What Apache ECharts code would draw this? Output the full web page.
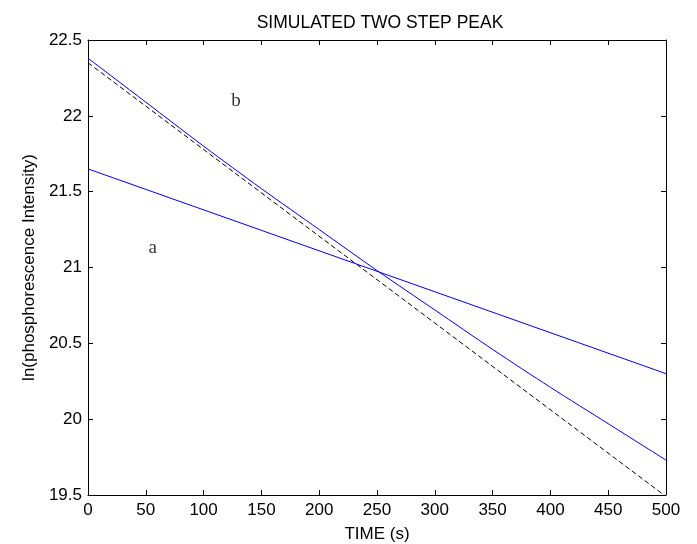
<!DOCTYPE html>
<html>
<head>
<meta charset="utf-8">
<script src="https://cdn.jsdelivr.net/npm/echarts@6/dist/echarts.min.js"></script>
<style>html,body{margin:0;padding:0;background:#fff}#c{width:697px;height:544px}</style>
</head>
<body>
<div id="c"></div>
<script>
var timeA = [0, 500];
var valuesA = [21.65, 20.30];
var timeB = [0, 50, 100, 150, 200, 250, 300, 350, 400, 450, 500];
var valuesB = [22.38, 22.09, 21.80, 21.52, 21.25, 20.98, 20.72, 20.46, 20.21, 19.97, 19.73];
var timeFit = [0, 500];
var valuesFit = [22.35, 19.49];
var annotations = [["a", 56, 21.13], ["b", 128, 22.10]];
var titleText = "SIMULATED TWO STEP PEAK";
var xName = "TIME (s)";
var yName = "ln(phosphorescence Intensity)";

function pairs(xs, ys) { return xs.map(function (x, i) { return [x, ys[i]]; }); }

var font = "Liberation Sans, Arial, sans-serif";
var fs = 17;
var axisCommon = {
  axisLine: { show: true, onZero: false, lineStyle: { color: "#000", width: 1 } },
  axisTick: { show: true, inside: true, length: 5, lineStyle: { color: "#000" } },
  splitLine: { show: false }
};
var chart = echarts.init(document.getElementById("c"), null, { renderer: "canvas" });
chart.setOption({
  animation: false,
  backgroundColor: "#fff",
  title: {
    text: titleText, left: 375, top: 9, textAlign: "center",
    textStyle: { fontFamily: font, fontSize: 17.5, fontWeight: "normal", color: "#000" }
  },
  grid: { left: 88, right: 31, top: 40, bottom: 49, containLabel: false, outerBoundsMode: "none" },
  xAxis: [
    Object.assign({
      type: "value", min: 0, max: 500, interval: 50, position: "bottom",
      name: xName, nameLocation: "middle", nameGap: 31,
      nameTextStyle: { fontFamily: font, fontSize: fs, color: "#000" },
      axisLabel: { fontFamily: font, fontSize: fs, color: "#000", margin: 7 }
    }, axisCommon),
    Object.assign({
      type: "value", min: 0, max: 500, interval: 50, position: "top",
      axisLabel: { show: false }
    }, axisCommon)
  ],
  yAxis: [
    Object.assign({
      type: "value", min: 19.5, max: 22.5, interval: 0.5, position: "left",
      name: yName, nameLocation: "middle", nameGap: 49,
      nameTextStyle: { fontFamily: font, fontSize: fs, color: "#000" },
      axisLabel: { fontFamily: font, fontSize: fs, color: "#000", margin: 6 }
    }, axisCommon),
    Object.assign({
      type: "value", min: 19.5, max: 22.5, interval: 0.5, position: "right",
      axisLabel: { show: false }
    }, axisCommon)
  ],
  series: [
    { type: "line", data: pairs(timeA, valuesA), showSymbol: false, symbol: "none",
      lineStyle: { color: "#0000ff", width: 1 } },
    { type: "line", data: pairs(timeB, valuesB), showSymbol: false, symbol: "none", smooth: 0.3,
      lineStyle: { color: "#0000ff", width: 1 } },
    { type: "line", data: pairs(timeFit, valuesFit), showSymbol: false, symbol: "none",
      lineStyle: { color: "#000", width: 1, type: [5, 3] } },
    { type: "scatter", symbolSize: 0,
      data: annotations.map(function (a) { return { value: [a[1], a[2]], name: a[0] }; }),
      label: { show: true, position: "inside", formatter: function (p) { return p.name; },
        fontFamily: "Liberation Serif, Times New Roman, serif", fontSize: 19, color: "#000" } }
  ]
});
</script>
</body>
</html>
